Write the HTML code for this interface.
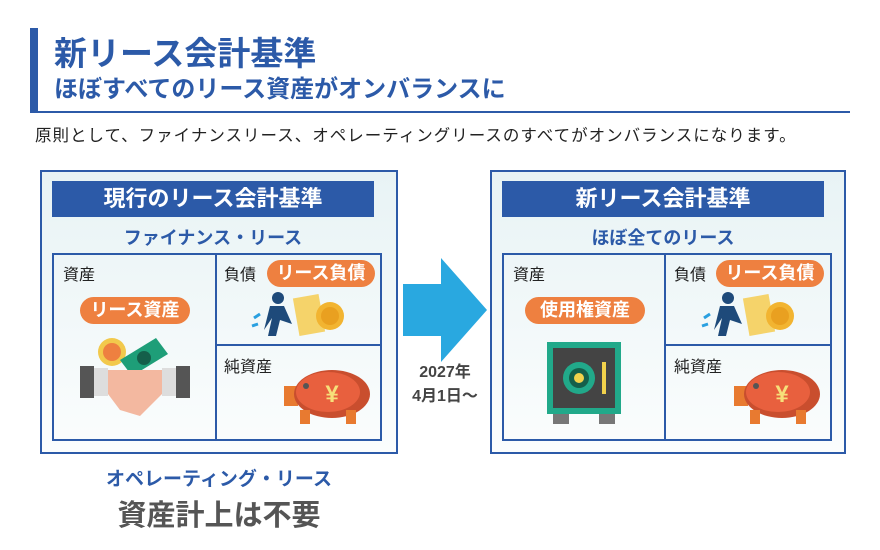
<!DOCTYPE html>
<html><head><meta charset="utf-8"><style>
body{margin:0;width:880px;height:550px;background:#fff;position:relative;overflow:hidden;font-family:"Liberation Sans","Noto Sans CJK JP",sans-serif;}
.a{position:absolute;}
.t{white-space:nowrap;}
.box{position:absolute;border:2px solid #2c5aa8;background:linear-gradient(#e8f3f5,#fbfdfd);box-sizing:border-box;}
.hb{position:absolute;background:#2c5aa8;color:#fff;font-weight:bold;font-size:22px;text-align:center;line-height:36px;white-space:nowrap;}
.sub{position:absolute;color:#2c5aa8;font-weight:bold;font-size:18px;text-align:center;white-space:nowrap;}
.grid{position:absolute;border:2px solid #2c5aa8;box-sizing:border-box;}
.lbl{position:absolute;font-size:16px;color:#222;white-space:nowrap;}
.pill{position:absolute;background:#ee8040;color:#fff;font-weight:bold;font-size:18px;border-radius:14px;text-align:center;line-height:27px;white-space:nowrap;}
</style></head><body>
<div class="a" style="left:30px;top:28px;width:8px;height:85px;background:#2c5aa8"></div>
<div class="a" style="left:30px;top:111px;width:820px;height:2px;background:#2c5aa8"></div>
<div class="a t" style="left:54px;top:27px;font-size:33px;font-weight:bold;color:#2c5aa8">新リース会計基準</div>
<div class="a t" style="left:54px;top:69px;font-size:24px;font-weight:bold;color:#2c5aa8">ほぼすべてのリース資産がオンバランスに</div>
<div class="a t" style="left:35px;top:122px;font-size:16.5px;letter-spacing:1px;color:#222">原則として、ファイナンスリース、オペレーティングリースのすべてがオンバランスになります。</div>

<!-- left -->
<div class="box" style="left:40px;top:170px;width:358px;height:284px"></div>
<div class="hb" style="left:52px;top:181px;width:322px">現行のリース会計基準</div>
<div class="sub" style="left:52px;top:224px;width:322px">ファイナンス・リース</div>
<div class="grid" style="left:52px;top:253px;width:330px;height:188px"></div>
<div class="a" style="left:215px;top:253px;width:2px;height:188px;background:#2c5aa8"></div>
<div class="a" style="left:215px;top:344px;width:167px;height:2px;background:#2c5aa8"></div>
<div class="lbl" style="left:63px;top:261px">資産</div>
<div class="lbl" style="left:224px;top:261px">負債</div>
<div class="lbl" style="left:224px;top:353px">純資産</div>
<div class="pill" style="left:80px;top:297px;width:110px">リース資産</div>
<div class="pill" style="left:267px;top:260px;width:108px">リース負債</div>
<svg class="a" style="left:80px;top:330px" width="110" height="90">
<circle cx="32" cy="22" r="14" fill="#f2c94c"/><circle cx="32" cy="22" r="9" fill="#ee8040"/>
<polygon points="40,30 76,8 88,24 52,46" fill="#1e9e78"/><circle cx="64" cy="28" r="7" fill="#155f4a"/>
<rect x="0" y="36" width="14" height="32" fill="#555"/><rect x="14" y="38" width="14" height="28" fill="#ddd"/>
<rect x="96" y="36" width="14" height="32" fill="#555"/><rect x="82" y="38" width="14" height="28" fill="#ddd"/>
<path d="M28 40 L82 40 L82 64 L60 86 L40 80 L28 64Z" fill="#f3b8a0"/>
</svg>
<svg class="a" style="left:250px;top:290px" width="100" height="50">
<circle cx="28" cy="8" r="6" fill="#1e4a7a"/><path d="M20 16 L34 16 L42 34 L30 30 L26 46 L18 46 L22 28 L14 40 Z" fill="#1e4a7a"/>
<path d="M4 28 l6 -4 M2 36 l6 -2" stroke="#2aa0e0" stroke-width="3"/>
<rect x="46" y="6" width="26" height="38" fill="#f5d36a" transform="rotate(-10 59 25)"/>
<circle cx="80" cy="26" r="14" fill="#f2b431"/><circle cx="80" cy="26" r="9" fill="#e9a020"/>
</svg>
<svg class="a" style="left:284px;top:366px" width="90" height="60">
<rect x="0" y="20" width="14" height="20" fill="#e87a30"/>
<ellipse cx="48" cy="28" rx="38" ry="24" fill="#c94e2e"/><ellipse cx="44" cy="26" rx="32" ry="20" fill="#e8603e"/>
<rect x="16" y="44" width="10" height="14" fill="#e87a30"/><rect x="62" y="44" width="10" height="14" fill="#e87a30"/>
<circle cx="22" cy="20" r="3" fill="#555"/>
<text x="48" y="36" font-size="24" font-weight="bold" fill="#f6e07a" text-anchor="middle" font-family="Liberation Sans,sans-serif">¥</text>
</svg>
<div class="a t" style="left:40px;top:464px;width:358px;text-align:center;font-size:19px;font-weight:bold;color:#2c5aa8">オペレーティング・リース</div>
<div class="a t" style="left:40px;top:492px;width:358px;text-align:center;font-size:29px;font-weight:bold;color:#555">資産計上は不要</div>

<!-- arrow -->
<svg class="a" style="left:403px;top:258px" width="86" height="106"><polygon points="0,26 38,26 38,0 84,52 38,104 38,78 0,78" fill="#29a8e0"/></svg>
<div class="a t" style="left:395px;top:361px;width:100px;text-align:center;font-size:16px;font-weight:bold;color:#444;line-height:24px">2027年<br>4月1日〜</div>

<!-- right -->
<div class="box" style="left:490px;top:170px;width:356px;height:284px"></div>
<div class="hb" style="left:502px;top:181px;width:322px">新リース会計基準</div>
<div class="sub" style="left:502px;top:224px;width:322px">ほぼ全てのリース</div>
<div class="grid" style="left:502px;top:253px;width:330px;height:188px"></div>
<div class="a" style="left:664px;top:253px;width:2px;height:188px;background:#2c5aa8"></div>
<div class="a" style="left:664px;top:344px;width:168px;height:2px;background:#2c5aa8"></div>
<div class="lbl" style="left:513px;top:261px">資産</div>
<div class="lbl" style="left:674px;top:261px">負債</div>
<div class="lbl" style="left:674px;top:353px">純資産</div>
<div class="pill" style="left:525px;top:297px;width:120px">使用権資産</div>
<div class="pill" style="left:716px;top:260px;width:108px">リース負債</div>
<svg class="a" style="left:547px;top:342px" width="76" height="84">
<rect x="0" y="0" width="74" height="72" fill="#21a98a"/><rect x="6" y="6" width="62" height="60" fill="#444"/>
<circle cx="32" cy="36" r="16" fill="#21a98a"/><circle cx="32" cy="36" r="10" fill="#155f4a"/><circle cx="32" cy="36" r="5" fill="#f2d24c"/>
<rect x="55" y="20" width="4" height="32" fill="#f2d24c"/>
<rect x="6" y="72" width="16" height="10" fill="#777"/><rect x="52" y="72" width="16" height="10" fill="#777"/>
</svg>
<svg class="a" style="left:700px;top:290px" width="100" height="50">
<circle cx="28" cy="8" r="6" fill="#1e4a7a"/><path d="M20 16 L34 16 L42 34 L30 30 L26 46 L18 46 L22 28 L14 40 Z" fill="#1e4a7a"/>
<path d="M4 28 l6 -4 M2 36 l6 -2" stroke="#2aa0e0" stroke-width="3"/>
<rect x="46" y="6" width="26" height="38" fill="#f5d36a" transform="rotate(-10 59 25)"/>
<circle cx="80" cy="26" r="14" fill="#f2b431"/><circle cx="80" cy="26" r="9" fill="#e9a020"/>
</svg>
<svg class="a" style="left:734px;top:366px" width="90" height="60">
<rect x="0" y="20" width="14" height="20" fill="#e87a30"/>
<ellipse cx="48" cy="28" rx="38" ry="24" fill="#c94e2e"/><ellipse cx="44" cy="26" rx="32" ry="20" fill="#e8603e"/>
<rect x="16" y="44" width="10" height="14" fill="#e87a30"/><rect x="62" y="44" width="10" height="14" fill="#e87a30"/>
<circle cx="22" cy="20" r="3" fill="#555"/>
<text x="48" y="36" font-size="24" font-weight="bold" fill="#f6e07a" text-anchor="middle" font-family="Liberation Sans,sans-serif">¥</text>
</svg>
</body></html>
